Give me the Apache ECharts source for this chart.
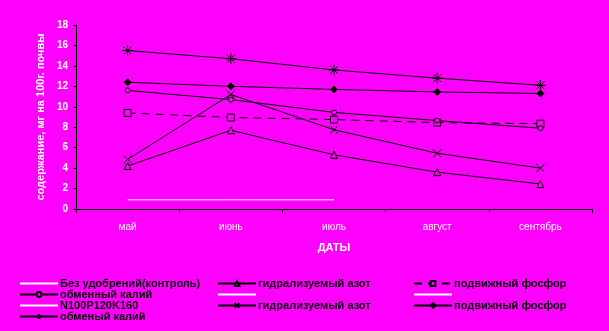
<!DOCTYPE html>
<html><head><meta charset="utf-8">
<script src="https://cdn.jsdelivr.net/npm/echarts@6/dist/echarts.min.js"></script>
<style>html,body{margin:0;padding:0;background:#FF00FF;}#c{width:609px;height:331px;}</style>
</head><body><div id="c"></div>
<script>
var categories = ['май', 'июнь', 'июль', 'август', 'сентябрь'];
var yTicks = [0, 2, 4, 6, 8, 10, 12, 14, 16, 18];
var controlLine = [0.9, 0.9, 0.9, '-', '-'];
var nitrogenControl = [4.2, 7.7, 5.3, 3.6, 2.45];
var phosphorusControl = [9.4, 8.95, 8.75, 8.45, 8.35];
var potassiumControl = [11.6, 10.7, 9.45, 8.65, 7.9];
var nitrogenNPK = [4.85, 11.2, 7.75, 5.45, 4.0];
var phosphorusNPK = [12.4, 12.0, 11.7, 11.45, 11.3];
var potassiumNPK = [15.5, 14.7, 13.6, 12.8, 12.1];

var X_PATH = 'path://M0,0L10,10M10,0L0,10';
var STAR_PATH = 'path://M5,0L5,10M0,5L10,5M1.5,1.5L8.5,8.5M8.5,1.5L1.5,8.5';

function ln(name, data, opt) {
  var s = {
    name: name, type: 'line', data: data, animation: false,
    lineStyle: { color: '#000', width: 1, type: opt.dash ? [8, 6] : 'solid' },
    itemStyle: { color: opt.fill || '#FF00FF', borderColor: '#000', borderWidth: 1 },
    symbol: opt.symbol || 'none', symbolSize: opt.size || 6,
    showSymbol: !!opt.symbol
  };
  if (opt.white) { s.lineStyle.color = '#fff'; s.itemStyle.color = '#fff'; s.itemStyle.borderColor = '#fff'; }
  return s;
}

var series = [
  ln('Без удобрений(контроль)', controlLine, { white: true }),
  ln('гидрализуемый азот', nitrogenControl, { symbol: 'triangle', size: 7 }),
  ln('подвижный фосфор', phosphorusControl, { symbol: 'rect', size: 7, dash: true }),
  ln('обменный калий', potassiumControl, { symbol: 'circle', size: 5 }),
  ln(' ', [], { white: true }),
  ln('  ', [], { white: true }),
  ln('N100P120K160', [], { white: true }),
  ln('гидрализуемый азот ', nitrogenNPK, { symbol: X_PATH, size: 8 }),
  ln('подвижный фосфор ', phosphorusNPK, { symbol: 'diamond', size: 7, fill: '#000' }),
  ln('обменый калий', potassiumNPK, { symbol: STAR_PATH, size: 11 })
];

var plain = ['Без удобрений(контроль)', 'N100P120K160', ' ', '  '];
function leg(left, names) {
  return {
    orient: 'vertical', left: left, top: 278, itemWidth: 38, itemHeight: 6, itemGap: 0,
    selectedMode: false, padding: 0,
    textStyle: { color: '#000', fontSize: 11, fontWeight: 'bold', fontFamily: 'Liberation Sans, Arial', lineHeight: 10, padding: [0, 0, 0, -3] },
    data: names.map(function (n) {
      return plain.indexOf(n) >= 0 ? { name: n, itemStyle: { opacity: 0 } } : { name: n };
    })
  };
}

var chart = echarts.init(document.getElementById('c'), null, { renderer: 'canvas' });
chart.setOption({
  backgroundColor: '#FF00FF',
  animation: false,
  grid: { left: 76, right: 17, top: 25, bottom: 122 },
  legend: [
    leg(19, ['Без удобрений(контроль)', 'обменный калий', 'N100P120K160', 'обменый калий']),
    leg(217, ['гидрализуемый азот', ' ', 'гидрализуемый азот ']),
    leg(413, ['подвижный фосфор', '  ', 'подвижный фосфор '])
  ],
  xAxis: {
    type: 'category', data: categories, boundaryGap: true,
    name: 'ДАТЫ', nameLocation: 'middle', nameGap: 33,
    nameTextStyle: { color: '#fff', fontSize: 11, fontWeight: 'bold', fontFamily: 'Liberation Sans, Arial' },
    axisLine: { lineStyle: { color: '#000', width: 1 } },
    axisTick: { show: true, length: 4, lineStyle: { color: '#000' } },
    axisLabel: { color: '#fff', fontSize: 10, margin: 13, fontFamily: 'Liberation Sans, Arial' },
    splitLine: { show: false }
  },
  yAxis: {
    type: 'value', min: yTicks[0], max: yTicks[yTicks.length - 1], interval: 2,
    name: 'содержание, мг на 100г. почвы', nameLocation: 'middle', nameGap: 30,
    nameTextStyle: { color: '#fff', fontSize: 11, fontWeight: 'bold', fontFamily: 'Liberation Sans, Arial' },
    axisLine: { show: true, lineStyle: { color: '#000', width: 1 } },
    axisTick: { show: true, length: 3, lineStyle: { color: '#000' } },
    axisLabel: { color: '#fff', fontSize: 10, fontWeight: 'bold', margin: 8, fontFamily: 'Liberation Sans, Arial' },
    splitLine: { show: false }
  },
  series: series
});
</script></body></html>
